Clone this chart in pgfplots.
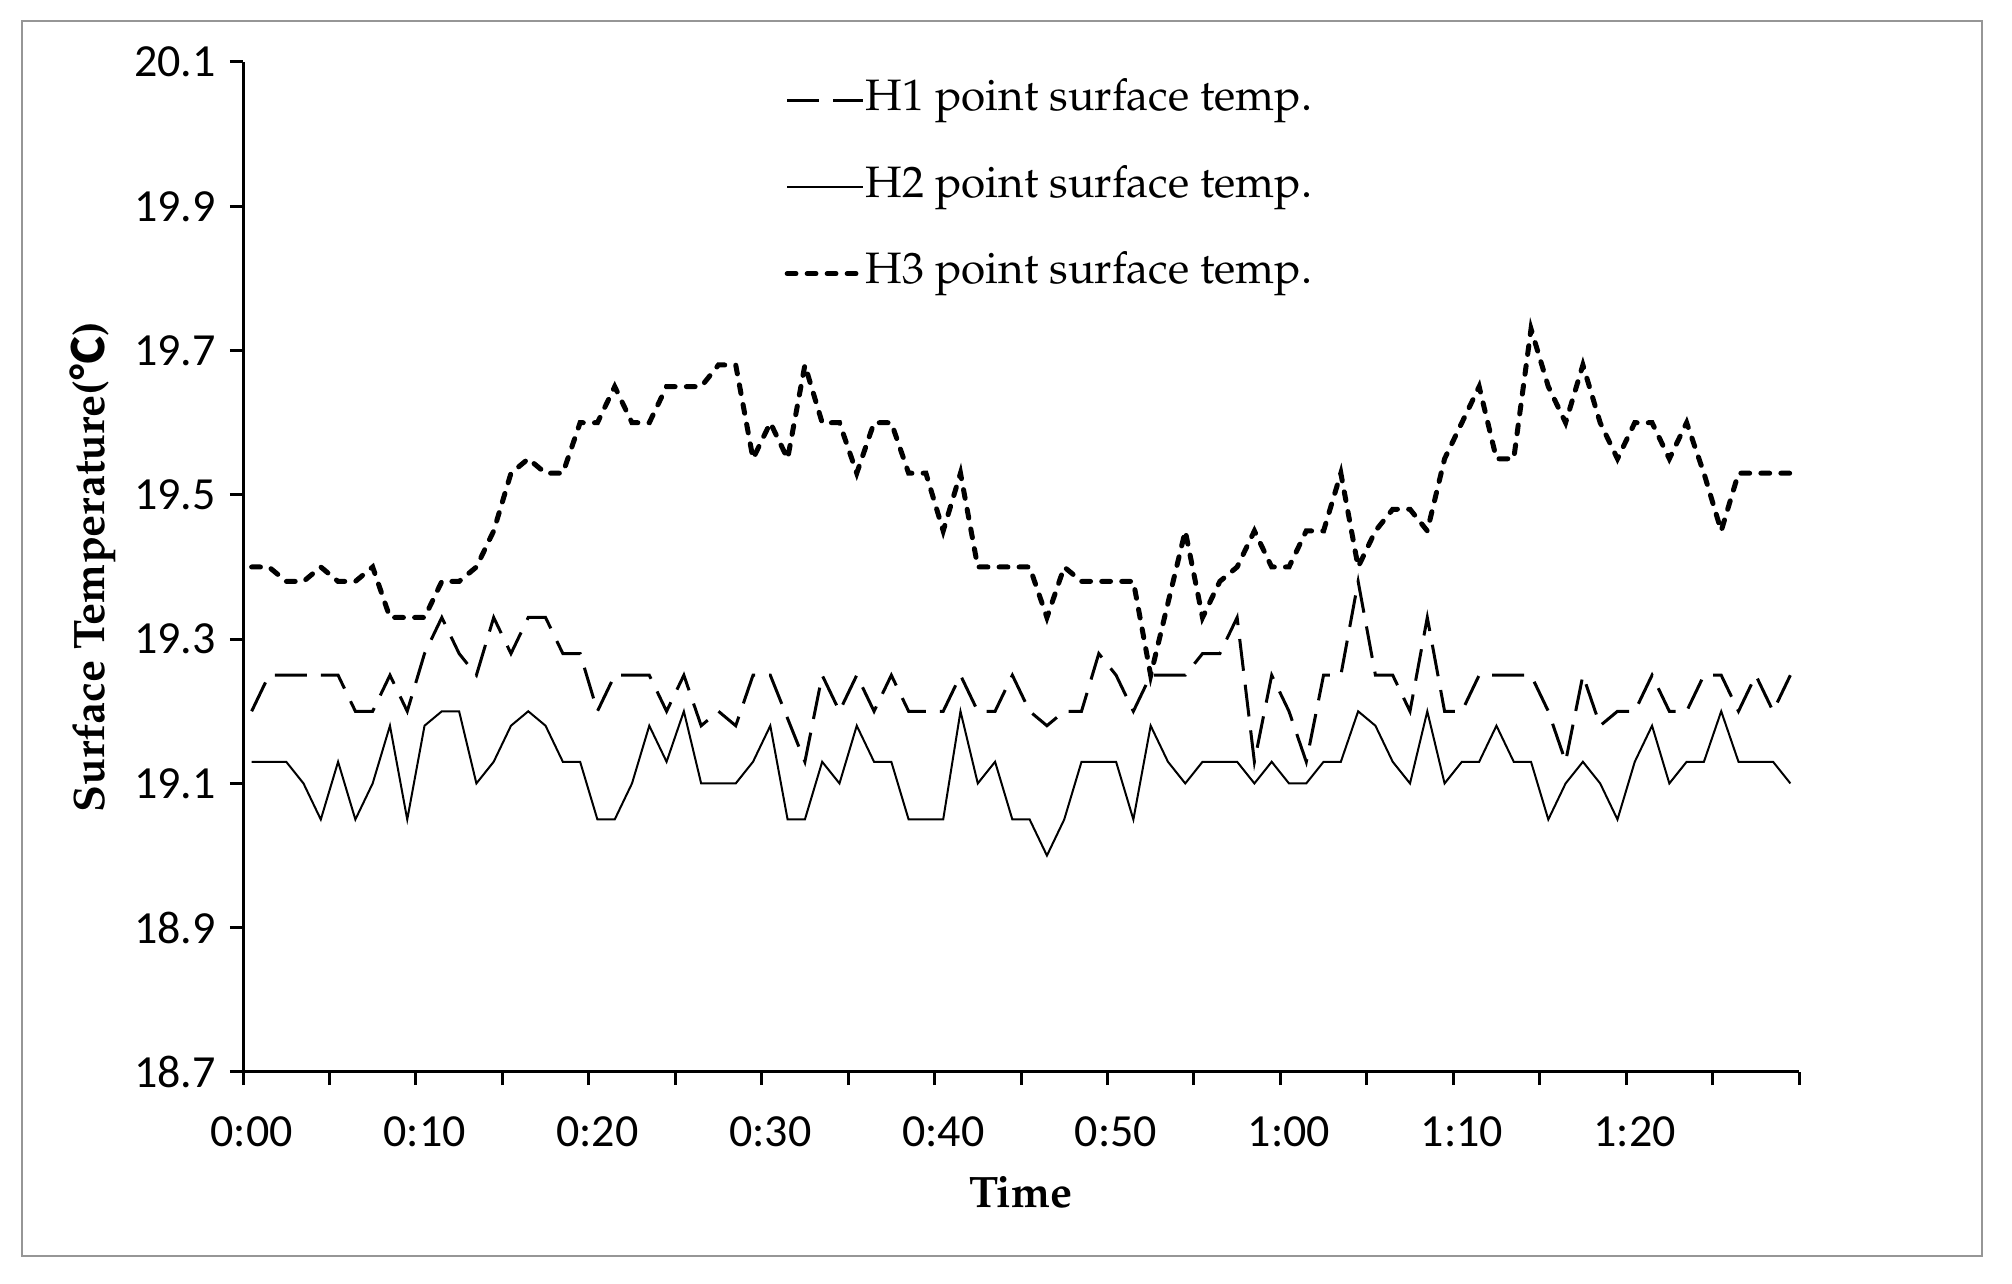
\documentclass[border=0pt]{standalone}
\usepackage[T1]{fontenc}
\usepackage{fontspec}
\usepackage{pgfplots}
\usepackage{pgfplotstable}
\pgfplotsset{compat=1.18}
\newfontfamily\carlito{Carlito}
\newfontfamily\cjk{Noto Sans CJK SC}
\newcommand\pal{\fontencoding{T1}\fontfamily{ppl}\selectfont}
\definecolor{framegray}{RGB}{150,150,150}

\pgfplotstableread{
i h1 h2 h3
0 19.20 19.13 19.40
1 19.25 19.13 19.40
2 19.25 19.13 19.38
3 19.25 19.10 19.38
4 19.25 19.05 19.40
5 19.25 19.13 19.38
6 19.20 19.05 19.38
7 19.20 19.10 19.40
8 19.25 19.18 19.33
9 19.20 19.05 19.33
10 19.28 19.18 19.33
11 19.33 19.20 19.38
12 19.28 19.20 19.38
13 19.25 19.10 19.40
14 19.33 19.13 19.45
15 19.28 19.18 19.53
16 19.33 19.20 19.55
17 19.33 19.18 19.53
18 19.28 19.13 19.53
19 19.28 19.13 19.60
20 19.20 19.05 19.60
21 19.25 19.05 19.65
22 19.25 19.10 19.60
23 19.25 19.18 19.60
24 19.20 19.13 19.65
25 19.25 19.20 19.65
26 19.18 19.10 19.65
27 19.20 19.10 19.68
28 19.18 19.10 19.68
29 19.25 19.13 19.55
30 19.25 19.18 19.60
31 19.19 19.05 19.55
32 19.13 19.05 19.68
33 19.25 19.13 19.60
34 19.20 19.10 19.60
35 19.25 19.18 19.53
36 19.20 19.13 19.60
37 19.25 19.13 19.60
38 19.20 19.05 19.53
39 19.20 19.05 19.53
40 19.20 19.05 19.45
41 19.25 19.20 19.53
42 19.20 19.10 19.40
43 19.20 19.13 19.40
44 19.25 19.05 19.40
45 19.20 19.05 19.40
46 19.18 19.00 19.33
47 19.20 19.05 19.40
48 19.20 19.13 19.38
49 19.28 19.13 19.38
50 19.25 19.13 19.38
51 19.20 19.05 19.38
52 19.25 19.18 19.25
53 19.25 19.13 19.35
54 19.25 19.10 19.45
55 19.28 19.13 19.33
56 19.28 19.13 19.38
57 19.33 19.13 19.40
58 19.13 19.10 19.45
59 19.25 19.13 19.40
60 19.20 19.10 19.40
61 19.13 19.10 19.45
62 19.25 19.13 19.45
63 19.25 19.13 19.53
64 19.38 19.20 19.40
65 19.25 19.18 19.45
66 19.25 19.13 19.48
67 19.20 19.10 19.48
68 19.33 19.20 19.45
69 19.20 19.10 19.55
70 19.20 19.13 19.60
71 19.25 19.13 19.65
72 19.25 19.18 19.55
73 19.25 19.13 19.55
74 19.25 19.13 19.73
75 19.20 19.05 19.65
76 19.13 19.10 19.60
77 19.25 19.13 19.68
78 19.18 19.10 19.60
79 19.20 19.05 19.55
80 19.20 19.13 19.60
81 19.25 19.18 19.60
82 19.20 19.10 19.55
83 19.20 19.13 19.60
84 19.25 19.13 19.53
85 19.25 19.20 19.45
86 19.20 19.13 19.53
87 19.25 19.13 19.53
88 19.20 19.13 19.53
89 19.25 19.10 19.53
}\datatable

\begin{document}
\begin{tikzpicture}[x=1pt,y=1pt]
\path[use as bounding box] (0,0) rectangle (503,321);
\draw[line width=0.5pt, framegray] (5.5,7) rectangle (495.5,315.75);
\begin{axis}[
  at={(60.75pt,53pt)}, anchor=south west,
  scale only axis, width=389pt, height=252.5pt,
  xmin=-0.5, xmax=89.5, ymin=18.7, ymax=20.1,
  axis x line=bottom, axis y line=left,
  axis line style={-, line width=0.75pt},
  tick align=outside, major tick length=3.25pt,
  tick style={line width=0.75pt, black},
  xtick={-0.5,4.5,9.5,14.5,19.5,24.5,29.5,34.5,39.5,44.5,49.5,54.5,59.5,64.5,69.5,74.5,79.5,84.5,89.5},
  xticklabels={},
  extra x ticks={0,10,20,30,40,50,60,70,80},
  extra x tick labels={0:00,0:10,0:20,0:30,0:40,0:50,1:00,1:10,1:20},
  extra x tick style={tick style={draw=none}},
  ytick={18.7,18.9,19.1,19.3,19.5,19.7,19.9,20.1},
  yticklabels={18.7,18.9,19.1,19.3,19.5,19.7,19.9,20.1},
  ticklabel style={font=\carlito\fontsize{11.5}{13}\selectfont},
  xticklabel style={yshift=-4.5pt},
  xlabel={\pal\bfseries Time},
  ylabel={\pal\bfseries Surface Temperature({\cjk\bfseries ℃})},
  label style={font=\fontsize{11}{13}\selectfont},
  xlabel style={at={(axis description cs:0.5,-0.119)}, anchor=center},
  ylabel style={at={(axis description cs:-0.0964,0.5)}, anchor=center},
  legend style={at={(0.3399,0.992)}, anchor=north west, draw=none, fill=none,
    font=\pal\fontsize{11}{13}\selectfont, row sep=10.6pt,
    nodes={inner sep=0pt, text height=8pt, text depth=3pt}},
  legend cell align=left,
  legend image code/.code={\draw[#1] (0pt,0pt) -- (19pt,0pt);},
  /tikz/every even column/.append style={column sep=1.25pt},
]
\addplot[black, line width=0.75pt, dash pattern=on 8pt off 3.5pt] table[x=i, y=h1] {\datatable};
\addlegendentry{H1 point surface temp.}
\addplot[black, line width=0.5pt] table[x=i, y=h2] {\datatable};
\addlegendentry{H2 point surface temp.}
\addplot[black, line width=1.25pt, line cap=round, dash pattern=on 2.2pt off 2.8pt] table[x=i, y=h3] {\datatable};
\addlegendentry{H3 point surface temp.}
\end{axis}
\end{tikzpicture}
\end{document}
